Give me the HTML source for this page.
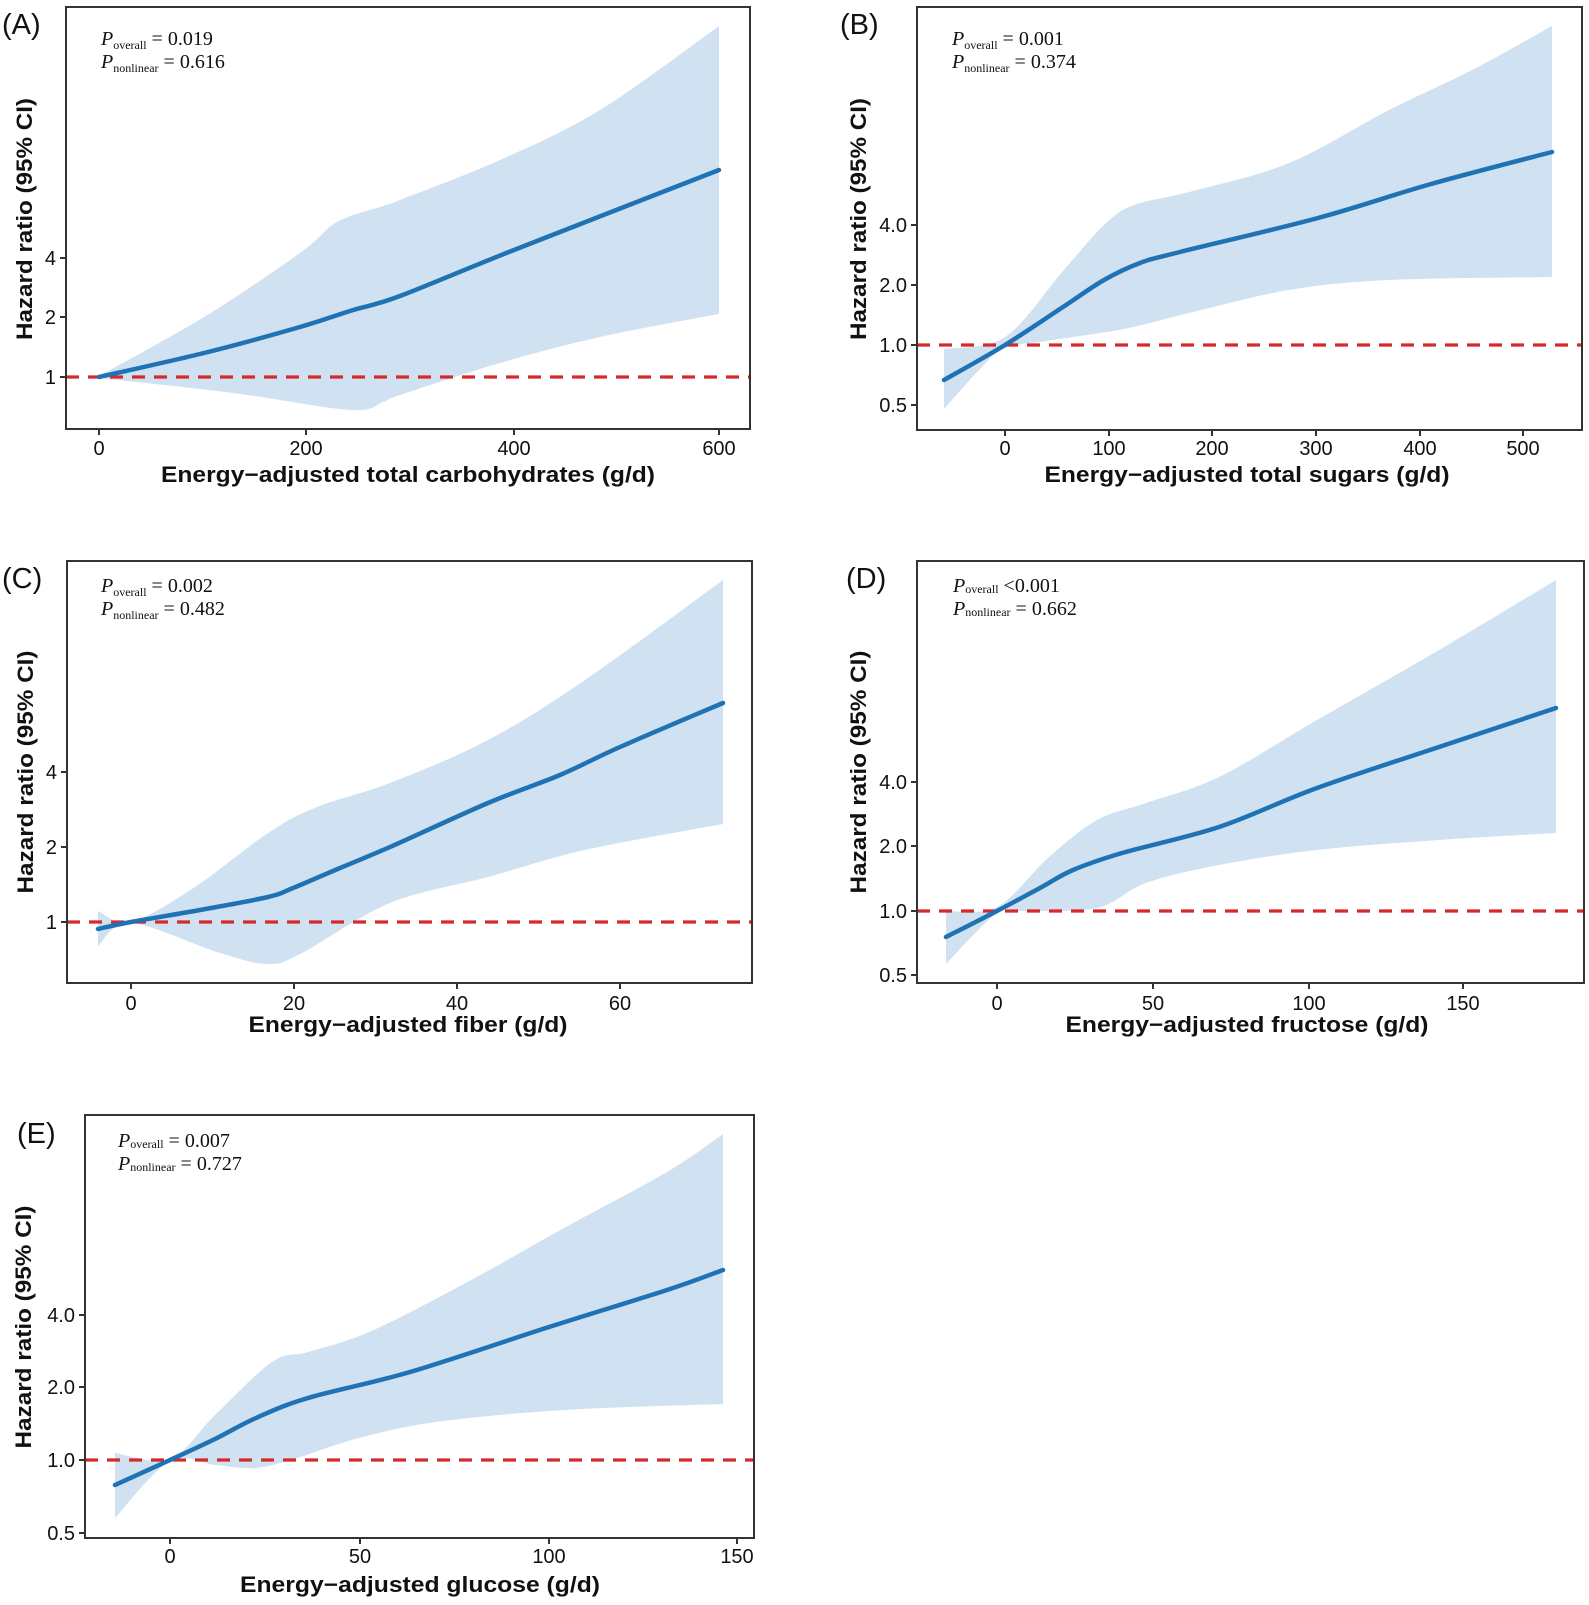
<!DOCTYPE html>
<html><head><meta charset="utf-8"><style>
html,body{margin:0;padding:0;background:#fff;}
svg{display:block;}
.tk{font-family:"Liberation Sans",Arial,sans-serif;font-size:20px;fill:#111;}
.tt{font-family:"Liberation Sans",Arial,sans-serif;font-size:22px;font-weight:bold;fill:#111;}
.pl{font-family:"Liberation Sans",Arial,sans-serif;font-size:29px;fill:#111;}
.an{font-family:"Liberation Serif","Times New Roman",serif;font-size:20px;fill:#111;}
.band{fill:#d0e2f1;stroke:none;}
.ln{fill:none;stroke:#1f72b3;stroke-width:4.5;stroke-linejoin:round;stroke-linecap:round;}
.rd{stroke:#d42a2a;stroke-width:3.2;stroke-dasharray:13,9;}
.box{fill:none;stroke:#333;stroke-width:2;}
.tm{stroke:#333;stroke-width:2;}
</style></head><body>
<svg id="s" width="1589" height="1605" viewBox="0 0 1589 1605" xmlns="http://www.w3.org/2000/svg">

<!-- Panel A -->
<text class="pl" x="2" y="34">(A)</text>
<polygon class="band" points="99,376 204,317 300,253 337,222 383,206 400,200 500,160 600,110 719,26 719,314 600,337 500,363 400,395 383,402 350,410 233,393 99,378"/>
<line class="rd" x1="66" y1="377" x2="750" y2="377"/>
<polyline class="ln" points="99,377 204,353 300,327 350,311 400,296 514,250 719,170"/>
<rect class="box" x="66" y="7" width="684" height="422"/>
<g class="tm"><line x1="60" y1="377" x2="66" y2="377"/><line x1="60" y1="317" x2="66" y2="317"/><line x1="60" y1="258" x2="66" y2="258"/>
<line x1="99" y1="429" x2="99" y2="435"/><line x1="306" y1="429" x2="306" y2="435"/><line x1="514" y1="429" x2="514" y2="435"/><line x1="719" y1="429" x2="719" y2="435"/></g>
<g class="tk" text-anchor="end"><text x="56" y="384">1</text><text x="56" y="324">2</text><text x="56" y="265">4</text></g>
<g class="tk" text-anchor="middle"><text x="99" y="455">0</text><text x="306" y="455">200</text><text x="514" y="455">400</text><text x="719" y="455">600</text></g>
<text class="tt" x="408" y="482" text-anchor="middle" textLength="494" lengthAdjust="spacingAndGlyphs">Energy−adjusted total carbohydrates (g/d)</text>
<text class="tt" transform="translate(32,219) rotate(-90)" text-anchor="middle" textLength="242" lengthAdjust="spacingAndGlyphs">Hazard ratio (95% CI)</text>
<text class="an" x="101" y="45"><tspan font-style="italic">P</tspan><tspan font-size="12" dy="4">overall</tspan><tspan dy="-4"> = 0.019</tspan></text>
<text class="an" x="101" y="68"><tspan font-style="italic">P</tspan><tspan font-size="12" dy="4">nonlinear</tspan><tspan dy="-4"> = 0.616</tspan></text>

<!-- Panel B -->
<text class="pl" x="840" y="34">(B)</text>
<polygon class="band" points="944,349 1005,337 1063,271 1104,225 1134,205 1189,192 1289,163 1389,110 1472,70 1552,26 1552,277 1389,280 1289,290 1189,313 1124,329 1053,340 1005,348 981,368 944,409"/>
<line class="rd" x1="917" y1="345" x2="1582" y2="345"/>
<polyline class="ln" points="944,380 1005,345 1063,307 1104,280 1140,263 1180,252 1318,218 1431,184 1552,152"/>
<rect class="box" x="917" y="7" width="665" height="423"/>
<g class="tm"><line x1="911" y1="405" x2="917" y2="405"/><line x1="911" y1="345" x2="917" y2="345"/><line x1="911" y1="285" x2="917" y2="285"/><line x1="911" y1="225" x2="917" y2="225"/>
<line x1="1005" y1="430" x2="1005" y2="436"/><line x1="1109" y1="430" x2="1109" y2="436"/><line x1="1212" y1="430" x2="1212" y2="436"/><line x1="1316" y1="430" x2="1316" y2="436"/><line x1="1420" y1="430" x2="1420" y2="436"/><line x1="1523" y1="430" x2="1523" y2="436"/></g>
<g class="tk" text-anchor="end"><text x="907" y="412">0.5</text><text x="907" y="352">1.0</text><text x="907" y="292">2.0</text><text x="907" y="232">4.0</text></g>
<g class="tk" text-anchor="middle"><text x="1005" y="455">0</text><text x="1109" y="455">100</text><text x="1212" y="455">200</text><text x="1316" y="455">300</text><text x="1420" y="455">400</text><text x="1523" y="455">500</text></g>
<text class="tt" x="1247" y="482" text-anchor="middle" textLength="405" lengthAdjust="spacingAndGlyphs">Energy−adjusted total sugars (g/d)</text>
<text class="tt" transform="translate(866,219) rotate(-90)" text-anchor="middle" textLength="242" lengthAdjust="spacingAndGlyphs">Hazard ratio (95% CI)</text>
<text class="an" x="952" y="45"><tspan font-style="italic">P</tspan><tspan font-size="12" dy="4">overall</tspan><tspan dy="-4"> = 0.001</tspan></text>
<text class="an" x="952" y="68"><tspan font-style="italic">P</tspan><tspan font-size="12" dy="4">nonlinear</tspan><tspan dy="-4"> = 0.374</tspan></text>

<!-- Panel C -->
<text class="pl" x="2" y="588">(C)</text>
<polygon class="band" points="98,911 131,922 195,887 268,833 317,807 390,783 488,740 585,680 723,580 723,824 585,850 488,877 390,903 302,953 268,964 220,953 131,923 98,946"/>
<line class="rd" x1="67" y1="922" x2="752" y2="922"/>
<polyline class="ln" points="98,929 131,922 200,910 268,897 293,888 340,868 390,847 488,803 560,775 620,747 723,703"/>
<rect class="box" x="67" y="561" width="685" height="422"/>
<g class="tm"><line x1="61" y1="922" x2="67" y2="922"/><line x1="61" y1="847" x2="67" y2="847"/><line x1="61" y1="772" x2="67" y2="772"/>
<line x1="131" y1="983" x2="131" y2="989"/><line x1="294" y1="983" x2="294" y2="989"/><line x1="457" y1="983" x2="457" y2="989"/><line x1="620" y1="983" x2="620" y2="989"/></g>
<g class="tk" text-anchor="end"><text x="57" y="929">1</text><text x="57" y="854">2</text><text x="57" y="779">4</text></g>
<g class="tk" text-anchor="middle"><text x="131" y="1010">0</text><text x="294" y="1010">20</text><text x="457" y="1010">40</text><text x="620" y="1010">60</text></g>
<text class="tt" x="408" y="1032" text-anchor="middle" textLength="319" lengthAdjust="spacingAndGlyphs">Energy−adjusted fiber (g/d)</text>
<text class="tt" transform="translate(33,772) rotate(-90)" text-anchor="middle" textLength="243" lengthAdjust="spacingAndGlyphs">Hazard ratio (95% CI)</text>
<text class="an" x="101" y="592"><tspan font-style="italic">P</tspan><tspan font-size="12" dy="4">overall</tspan><tspan dy="-4"> = 0.002</tspan></text>
<text class="an" x="101" y="615"><tspan font-style="italic">P</tspan><tspan font-size="12" dy="4">nonlinear</tspan><tspan dy="-4"> = 0.482</tspan></text>

<!-- Panel D -->
<text class="pl" x="846" y="588">(D)</text>
<polygon class="band" points="946,911 997,907 1049,857 1097,820 1146,803 1219,777 1317,720 1439,650 1556,580 1556,833 1439,840 1317,850 1219,865 1146,883 1097,908 1024,911 997,913 946,964"/>
<line class="rd" x1="917" y1="911" x2="1584" y2="911"/>
<polyline class="ln" points="946,937 997,911 1040,888 1073,870 1122,853 1219,827 1317,788 1439,747 1556,708"/>
<rect class="box" x="917" y="561" width="667" height="422"/>
<g class="tm"><line x1="911" y1="975" x2="917" y2="975"/><line x1="911" y1="911" x2="917" y2="911"/><line x1="911" y1="846" x2="917" y2="846"/><line x1="911" y1="782" x2="917" y2="782"/>
<line x1="997" y1="983" x2="997" y2="989"/><line x1="1153" y1="983" x2="1153" y2="989"/><line x1="1309" y1="983" x2="1309" y2="989"/><line x1="1463" y1="983" x2="1463" y2="989"/></g>
<g class="tk" text-anchor="end"><text x="907" y="982">0.5</text><text x="907" y="918">1.0</text><text x="907" y="853">2.0</text><text x="907" y="789">4.0</text></g>
<g class="tk" text-anchor="middle"><text x="997" y="1010">0</text><text x="1153" y="1010">50</text><text x="1309" y="1010">100</text><text x="1463" y="1010">150</text></g>
<text class="tt" x="1247" y="1032" text-anchor="middle" textLength="363" lengthAdjust="spacingAndGlyphs">Energy−adjusted fructose (g/d)</text>
<text class="tt" transform="translate(866,772) rotate(-90)" text-anchor="middle" textLength="243" lengthAdjust="spacingAndGlyphs">Hazard ratio (95% CI)</text>
<text class="an" x="953" y="592"><tspan font-style="italic">P</tspan><tspan font-size="12" dy="1">overall</tspan><tspan dy="-1"> &lt;0.001</tspan></text>
<text class="an" x="953" y="615"><tspan font-style="italic">P</tspan><tspan font-size="12" dy="1">nonlinear</tspan><tspan dy="-1"> = 0.662</tspan></text>

<!-- Panel E -->
<text class="pl" x="17" y="1143">(E)</text>
<polygon class="band" points="115,1453 170,1459 215,1415 272,1362 308,1352 369,1332 462,1285 564,1228 667,1172 723,1134 723,1404 564,1410 436,1422 359,1438 297,1458 256,1468 215,1465 170,1461 115,1518"/>
<line class="rd" x1="85" y1="1460" x2="754" y2="1460"/>
<polyline class="ln" points="115,1485 170,1460 215,1439 256,1418 308,1398 410,1372 549,1327 667,1290 723,1270"/>
<rect class="box" x="85" y="1115" width="669" height="423"/>
<g class="tm"><line x1="79" y1="1533" x2="85" y2="1533"/><line x1="79" y1="1460" x2="85" y2="1460"/><line x1="79" y1="1387" x2="85" y2="1387"/><line x1="79" y1="1315" x2="85" y2="1315"/>
<line x1="170" y1="1538" x2="170" y2="1544"/><line x1="360" y1="1538" x2="360" y2="1544"/><line x1="549" y1="1538" x2="549" y2="1544"/><line x1="737" y1="1538" x2="737" y2="1544"/></g>
<g class="tk" text-anchor="end"><text x="75" y="1540">0.5</text><text x="75" y="1467">1.0</text><text x="75" y="1394">2.0</text><text x="75" y="1322">4.0</text></g>
<g class="tk" text-anchor="middle"><text x="170" y="1563">0</text><text x="360" y="1563">50</text><text x="549" y="1563">100</text><text x="737" y="1563">150</text></g>
<text class="tt" x="420" y="1592" text-anchor="middle" textLength="360" lengthAdjust="spacingAndGlyphs">Energy−adjusted glucose (g/d)</text>
<text class="tt" transform="translate(31,1327) rotate(-90)" text-anchor="middle" textLength="243" lengthAdjust="spacingAndGlyphs">Hazard ratio (95% CI)</text>
<text class="an" x="118" y="1147"><tspan font-style="italic">P</tspan><tspan font-size="12" dy="1">overall</tspan><tspan dy="-1"> = 0.007</tspan></text>
<text class="an" x="118" y="1170"><tspan font-style="italic">P</tspan><tspan font-size="12" dy="1">nonlinear</tspan><tspan dy="-1"> = 0.727</tspan></text>

</svg>
<script>
(function(){
  var NS="http://www.w3.org/2000/svg";
  function parse(s){return s.trim().split(/\s+/).map(function(p){var a=p.split(',');return [+a[0],+a[1]];});}
  function segs(pts){
    var d="";
    for(var i=0;i<pts.length-1;i++){
      var p0=pts[i-1]||pts[i],p1=pts[i],p2=pts[i+1],p3=pts[i+2]||p2;
      var c1=[p1[0]+(p2[0]-p0[0])/6,p1[1]+(p2[1]-p0[1])/6];
      var c2=[p2[0]-(p3[0]-p1[0])/6,p2[1]-(p3[1]-p1[1])/6];
      d+=" C"+c1[0].toFixed(1)+","+c1[1].toFixed(1)+" "+c2[0].toFixed(1)+","+c2[1].toFixed(1)+" "+p2[0]+","+p2[1];
    }
    return d;
  }
  var lines=document.querySelectorAll("polyline.ln");
  for(var i=0;i<lines.length;i++){
    var el=lines[i],pts=parse(el.getAttribute("points"));
    var p=document.createElementNS(NS,"path");p.setAttribute("class","ln");
    p.setAttribute("d","M"+pts[0][0]+","+pts[0][1]+segs(pts));
    el.parentNode.replaceChild(p,el);
  }
  var bands=document.querySelectorAll("polygon.band");
  for(var j=0;j<bands.length;j++){
    var b=bands[j],pts2=parse(b.getAttribute("points"));
    var k=0;for(var m=1;m<pts2.length;m++){if(pts2[m][0]>pts2[k][0])k=m;else break;}
    var up=pts2.slice(0,k+1),lo=pts2.slice(k+1);
    var d="M"+up[0][0]+","+up[0][1]+segs(up)+" L"+lo[0][0]+","+lo[0][1]+segs(lo)+" Z";
    var pb=document.createElementNS(NS,"path");pb.setAttribute("class","band");pb.setAttribute("d",d);
    b.parentNode.replaceChild(pb,b);
  }
})();
</script>
</body></html>
